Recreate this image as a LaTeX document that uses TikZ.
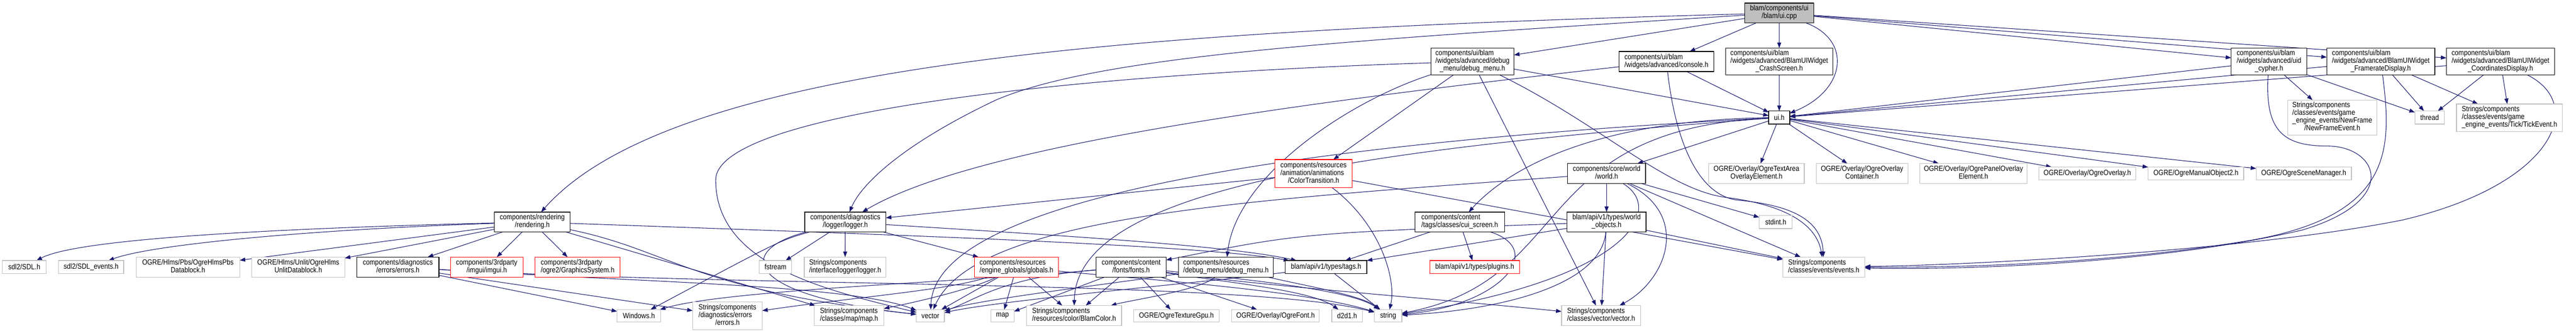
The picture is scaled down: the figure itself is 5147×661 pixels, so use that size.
\documentclass[tikz,border=0pt]{standalone}
\usepackage{fontspec}
\setmainfont{Liberation Sans}[FakeStretch=0.87]
\usetikzlibrary{arrows.meta}
\pgfdeclarelayer{bg}
\pgfsetlayers{bg,main}
\definecolor{edgec}{HTML}{191970}
\definecolor{greyb}{HTML}{BFBFBF}
\newcommand\mlab[2]{\begin{tabular}{@{}l@{}}#1\\\multicolumn{1}{@{}c@{}}{#2}\end{tabular}}
\begin{document}
\begin{tikzpicture}[x=1pt,y=-1pt,
  every node/.style={font=\fontsize{15}{15}\selectfont, inner sep=0pt, outer sep=0pt},
  nd/.style={draw, rectangle, fill=white},
  doc/.style={nd, draw=black, line width=1.4pt},
  ext/.style={nd, draw=greyb, line width=1.3pt},
  bad/.style={nd, draw=red, line width=1.3pt},
  root/.style={nd, draw=black, fill=greyb, line width=1.4pt},
  e/.style={draw=edgec, line width=1.1pt, -{Triangle[length=11pt,width=8pt]}}
]
\useasboundingbox (0,0) rectangle (5147,661);

% nodes
\node[ext, minimum width=87pt, minimum height=26pt] (sdl) at (48.5,534) {sdl2/SDL.h};
\node[ext, minimum width=130pt, minimum height=26pt] (sdlev) at (182,534) {sdl2/SDL\_events.h};
\node[ext, minimum width=207pt, minimum height=40pt] (pbs) at (375.5,534) {\mlab{OGRE/Hlms/Pbs/OgreHlmsPbs}{Datablock.h}};
\node[ext, minimum width=186pt, minimum height=40pt] (unlit) at (596,534) {\mlab{OGRE/Hlms/Unlit/OgreHlms}{UnlitDatablock.h}};
\node[doc, minimum width=164pt, minimum height=40pt] (errs) at (795,534) {\mlab{components/diagnostics}{/errors/errors.h}};
\node[doc, minimum width=151pt, minimum height=40pt] (rend) at (1063.5,444) {\mlab{components/rendering}{/rendering.h}};
\node[bad, minimum width=145pt, minimum height=40pt] (imgui) at (972.5,534) {\mlab{components/3rdparty}{/imgui/imgui.h}};
\node[bad, minimum width=170pt, minimum height=40pt] (gsys) at (1154,534) {\mlab{components/3rdparty}{/ogre2/GraphicsSystem.h}};
\node[doc, minimum width=162pt, minimum height=40pt] (log) at (1689,444) {\mlab{components/diagnostics}{/logger/logger.h}};
\node[ext, minimum width=65pt, minimum height=26pt] (fstream) at (1549.5,534) {fstream};
\node[ext, minimum width=163pt, minimum height=40pt] (slog) at (1688.5,534) {\mlab{Strings/components}{/interface/logger/logger.h}};
\node[ext, minimum width=87pt, minimum height=25pt] (win) at (1276.5,631.5) {Windows.h};
\node[ext, minimum width=139pt, minimum height=55pt] (serr) at (1453.5,631.5) {\mlab{Strings/components\\/diagnostics/errors}{/errors.h}};
\node[ext, minimum width=139pt, minimum height=40pt] (smap) at (1696.5,631) {\mlab{Strings/components}{/classes/map/map.h}};
\node[ext, minimum width=56pt, minimum height=25pt] (vec) at (1859,631.5) {vector};
\node[ext, minimum width=46pt, minimum height=25pt] (map) at (2003,631.5) {map};
\node[ext, minimum width=190pt, minimum height=40pt] (bcolor) at (2146,631) {\mlab{Strings/components}{/resources/color/BlamColor.h}};
\node[ext, minimum width=171pt, minimum height=25pt] (texgpu) at (2350.5,631.5) {OGRE/OgreTextureGpu.h};
\node[ext, minimum width=175pt, minimum height=25pt] (font) at (2548.5,631.5) {OGRE/Overlay/OgreFont.h};
\node[bad, minimum width=168pt, minimum height=40pt] (glob) at (2031,534) {\mlab{components/resources}{/engine\_globals/globals.h}};
\node[doc, minimum width=140pt, minimum height=40pt] (fonts) at (2260,534) {\mlab{components/content}{/fonts/fonts.h}};
\node[doc, minimum width=189pt, minimum height=40pt] (dmres) at (2449.5,534) {\mlab{components/resources}{/debug\_menu/debug\_menu.h}};
\node[doc, minimum width=163pt, minimum height=26pt] (tags) at (2649.5,534) {blam/api/v1/types/tags.h};
\node[bad, minimum width=155pt, minimum height=56pt] (color) at (2624.5,347) {\mlab{components/resources\\/animation/animations}{/ColorTransition.h}};
\node[ext, minimum width=61pt, minimum height=25pt] (d2d1) at (2691.5,631.5) {d2d1.h};
\node[ext, minimum width=55pt, minimum height=25pt] (string) at (2773.5,631.5) {string};
\node[ext, minimum width=158pt, minimum height=40pt] (svec) at (3199,631) {\mlab{Strings/components}{/classes/vector/vector.h}};
\node[doc, minimum width=166pt, minimum height=54pt] (dmui) at (2942,123) {\mlab{components/ui/blam\\/widgets/advanced/debug}{\_menu/debug\_menu.h}};
\node[doc, minimum width=189pt, minimum height=40pt] (con) at (3329.5,123) {\mlab{components/ui/blam}{/widgets/advanced/console.h}};
\node[doc, minimum width=179pt, minimum height=40pt] (cui) at (2916.5,444) {\mlab{components/content}{/tags/classes/cui\_screen.h}};
\node[bad, minimum width=179pt, minimum height=26pt] (plugins) at (2946.5,534) {blam/api/v1/types/plugins.h};
\node[doc, minimum width=156pt, minimum height=40pt] (world) at (3210,347) {\mlab{components/core/world}{/world.h}};
\node[doc, minimum width=158pt, minimum height=40pt] (wobj) at (3210,444) {\mlab{blam/api/v1/types/world}{\_objects.h}};
\node[root, minimum width=138pt, minimum height=40pt] (cpp) at (3555,26) {\mlab{blam/components/ui}{/blam/ui.cpp}};
\node[doc, minimum width=214pt, minimum height=54pt] (crash) at (3555,123) {\mlab{components/ui/blam\\/widgets/advanced/BlamUIWidget}{\_CrashScreen.h}};
\node[doc, minimum width=42pt, minimum height=26pt] (uih) at (3555,235) {ui.h};
\node[ext, minimum width=191pt, minimum height=40pt] (textarea) at (3509.5,347) {\mlab{OGRE/Overlay/OgreTextArea}{OverlayElement.h}};
\node[ext, minimum width=183pt, minimum height=40pt] (ocont) at (3720.5,347) {\mlab{OGRE/Overlay/OgreOverlay}{Container.h}};
\node[ext, minimum width=214pt, minimum height=40pt] (panel) at (3943,347) {\mlab{OGRE/Overlay/OgrePanelOverlay}{Element.h}};
\node[ext, minimum width=193pt, minimum height=26pt] (overlay) at (4170.5,347) {OGRE/Overlay/OgreOverlay.h};
\node[ext, minimum width=191pt, minimum height=26pt] (manual) at (4387.5,347) {OGRE/OgreManualObject2.h};
\node[ext, minimum width=190pt, minimum height=26pt] (scene) at (4603,347) {OGRE/OgreSceneManager.h};
\node[ext, minimum width=66pt, minimum height=26pt] (stdint) at (3548,444) {stdint.h};
\node[ext, minimum width=164pt, minimum height=40pt] (events) at (3644,534) {\mlab{Strings/components}{/classes/events/events.h}};
\node[doc, minimum width=151pt, minimum height=54pt] (cyph) at (4533.5,123) {\mlab{components/ui/blam\\/widgets/advanced/uid}{\_cypher.h}};
\node[doc, minimum width=216pt, minimum height=54pt] (fps) at (4757,123) {\mlab{components/ui/blam\\/widgets/advanced/BlamUIWidget}{\_FramerateDisplay.h}};
\node[doc, minimum width=216pt, minimum height=54pt] (coord) at (4996,123) {\mlab{components/ui/blam\\/widgets/advanced/BlamUIWidget}{\_CoordinatesDisplay.h}};
\node[ext, minimum width=178pt, minimum height=70pt] (newframe) at (4660,235) {\mlab{Strings/components\\/classes/events/game\\\_engine\_events/NewFrame}{/NewFrameEvent.h}};
\node[ext, minimum width=59pt, minimum height=26pt] (thread) at (4854.5,235) {thread};
\node[ext, minimum width=212pt, minimum height=55pt] (tick) at (5014,235.5) {\mlab{Strings/components\\/classes/events/game}{\_engine\_events/Tick/TickEvent.h}};

\begin{pgfonlayer}{bg}
\fill[white] (0,0) rectangle (5147,661);
% from ui.cpp
\draw[e] (cpp) .. controls (2300,60) and (1350,120) .. (rend);
\draw[e] (cpp) .. controls (2700,80) and (2200,110) .. (1990,200) .. controls (1800,290) and (1720,370) .. (log);
\draw[e] (cpp) -- (dmui);
\draw[e] (cpp) -- (con);
\draw[e] (cpp) -- (crash);
\draw[e] (cpp) .. controls (3700,80) and (3690,180) .. (uih);
\draw[e] (cpp) -- (cyph);
\draw[e] (cpp) -- (fps);
\draw[e] (cpp) -- (coord);
% to ui.h
\draw[e] (crash) -- (uih);
\draw[e] (con) -- (uih);
\draw[e] (dmui) -- (uih);
\draw[e] (cyph) -- (uih);
\draw[e] (fps) -- (uih);
\draw[e] (coord) -- (uih);
% console, debug menu
\draw[e] (con) .. controls (2600,205) and (1950,290) .. (log);
\draw[e] (con) .. controls (3350,300) and (3400,390) .. (3470,400) .. controls (3580,410) and (3640,440) .. (events);
\draw[e] (dmui) -- (color);
\draw[e] (dmui) -- (svec);
\draw[e] (dmui) .. controls (3200,250) and (3330,380) .. (3450,395) .. controls (3570,410) and (3630,450) .. (events);
\draw[e] (dmui) .. controls (2700,200) and (2470,350) .. (dmres);
\draw[e] (dmui) .. controls (2100,150) and (1430,230) .. (1430,360) .. controls (1430,530) and (1650,580) .. (vec);
% ui.h
\draw[e] (uih) -- (textarea);
\draw[e] (uih) -- (ocont);
\draw[e] (uih) -- (panel);
\draw[e] (uih) -- (overlay);
\draw[e] (uih) -- (manual);
\draw[e] (uih) -- (scene);
\draw[e] (uih) -- (world);
\draw[e] (uih) .. controls (3200,240) and (3020,330) .. (cui);
\draw[e] (uih) .. controls (2700,280) and (1870,380) .. (vec);
\draw[e] (uih) .. controls (2700,300) and (2150,380) .. (bcolor);
\draw[e] (uih) .. controls (3050,260) and (3150,560) .. (string);
% world, world objects, cui, color
\draw[e] (world) -- (wobj);
\draw[e] (world) .. controls (3330,420) and (3250,560) .. (string);
\draw[e] (world) .. controls (3380,430) and (3330,560) .. (svec);
\draw[e] (world) -- (events);
\draw[e] (world) -- (stdint);
\draw[e] (world) .. controls (2500,400) and (1950,430) .. (vec);
\draw[e] (wobj) -- (tags);
\draw[e] (wobj) -- (svec);
\draw[e] (wobj) .. controls (3200,570) and (3000,620) .. (string);
\draw[e] (wobj) -- (events);
\draw[e] (wobj) .. controls (2600,466) .. (fonts);
\draw[e] (cui) -- (tags);
\draw[e] (cui) -- (plugins);
\draw[e] (cui) .. controls (3090,500) and (3000,610) .. (string);
\draw[e] (color) -- (log);
\draw[e] (color) .. controls (2760,450) and (2790,560) .. (string);
\draw[e] (color) -- (events);
% rendering
\draw[e] (rend) .. controls (500,458) and (150,480) .. (sdl);
\draw[e] (rend) .. controls (600,460) and (300,490) .. (sdlev);
\draw[e] (rend) -- (pbs);
\draw[e] (rend) -- (unlit);
\draw[e] (rend) -- (errs);
\draw[e] (rend) -- (imgui);
\draw[e] (rend) -- (gsys);
\draw[e] (rend) -- (smap);
\draw[e] (rend) .. controls (1800,470) and (2400,490) .. (tags);
\draw[e] (rend) .. controls (1340,500) and (1380,580) .. (vec);
% errors
\draw[e] (errs) -- (win);
\draw[e] (errs) -- (serr);
\draw[e] (errs) .. controls (1300,565) and (1700,570) .. (vec);
\draw[e] (errs) .. controls (1500,575) and (2500,560) .. (string);
% logger
\draw[e] (log) -- (fstream);
\draw[e] (log) -- (slog);
\draw[e] (log) .. controls (1560,480) .. (win);
\draw[e] (log) -- (glob);
\draw[e] (log) .. controls (2100,470) and (2450,490) .. (tags);
\draw[e] (log) .. controls (1470,500) and (1480,590) .. (vec);
% globals
\draw[e] (glob) -- (vec);
\draw[e] (glob) -- (map);
\draw[e] (glob) -- (bcolor);
\draw[e] (glob) .. controls (1950,575) and (1850,600) .. (smap);
\draw[e] (glob) .. controls (1900,580) and (1700,595) .. (serr);
\draw[e] (glob) .. controls (2300,560) and (2600,580) .. (string);
% fonts
\draw[e] (fonts) .. controls (2000,555) and (1950,600) .. (vec);
\draw[e] (fonts) -- (map);
\draw[e] (fonts) -- (bcolor);
\draw[e] (fonts) -- (texgpu);
\draw[e] (fonts) -- (font);
\draw[e] (fonts) .. controls (2450,565) and (2620,580) .. (d2d1);
\draw[e] (fonts) .. controls (2500,560) and (2700,580) .. (string);
\draw[e] (fonts) .. controls (1900,565) and (1450,580) .. (win);
\draw[e] (fonts) .. controls (2500,570) and (2900,600) .. (svec);
% debug menu resources, tags
\draw[e] (dmres) .. controls (2200,570) and (1950,600) .. (vec);
\draw[e] (dmres) .. controls (2400,580) and (2260,600) .. (bcolor);
\draw[e] (dmres) .. controls (2600,570) and (2720,590) .. (string);
\draw[e] (tags) .. controls (2450,560) and (2000,600) .. (vec);
\draw[e] (tags) -- (string);
% right cluster
\draw[e] (cyph) -- (newframe);
\draw[e] (cyph) -- (thread);
\draw[e] (fps) -- (thread);
\draw[e] (fps) -- (tick);
\draw[e] (coord) -- (thread);
\draw[e] (coord) -- (tick);
\draw[e] (cyph) .. controls (4525,260) and (4560,292) .. (4650,292) .. controls (4750,292) and (4800,400) .. (4600,460) .. controls (4300,530) and (3900,540) .. (events);
\draw[e] (fps) .. controls (4780,300) and (4780,430) .. (4500,480) .. controls (4200,530) and (3900,535) .. (events);
\draw[e] (coord) .. controls (5170,210) and (5100,370) .. (4800,440) .. controls (4500,500) and (3950,530) .. (events);
\end{pgfonlayer}
\end{tikzpicture}
\end{document}
